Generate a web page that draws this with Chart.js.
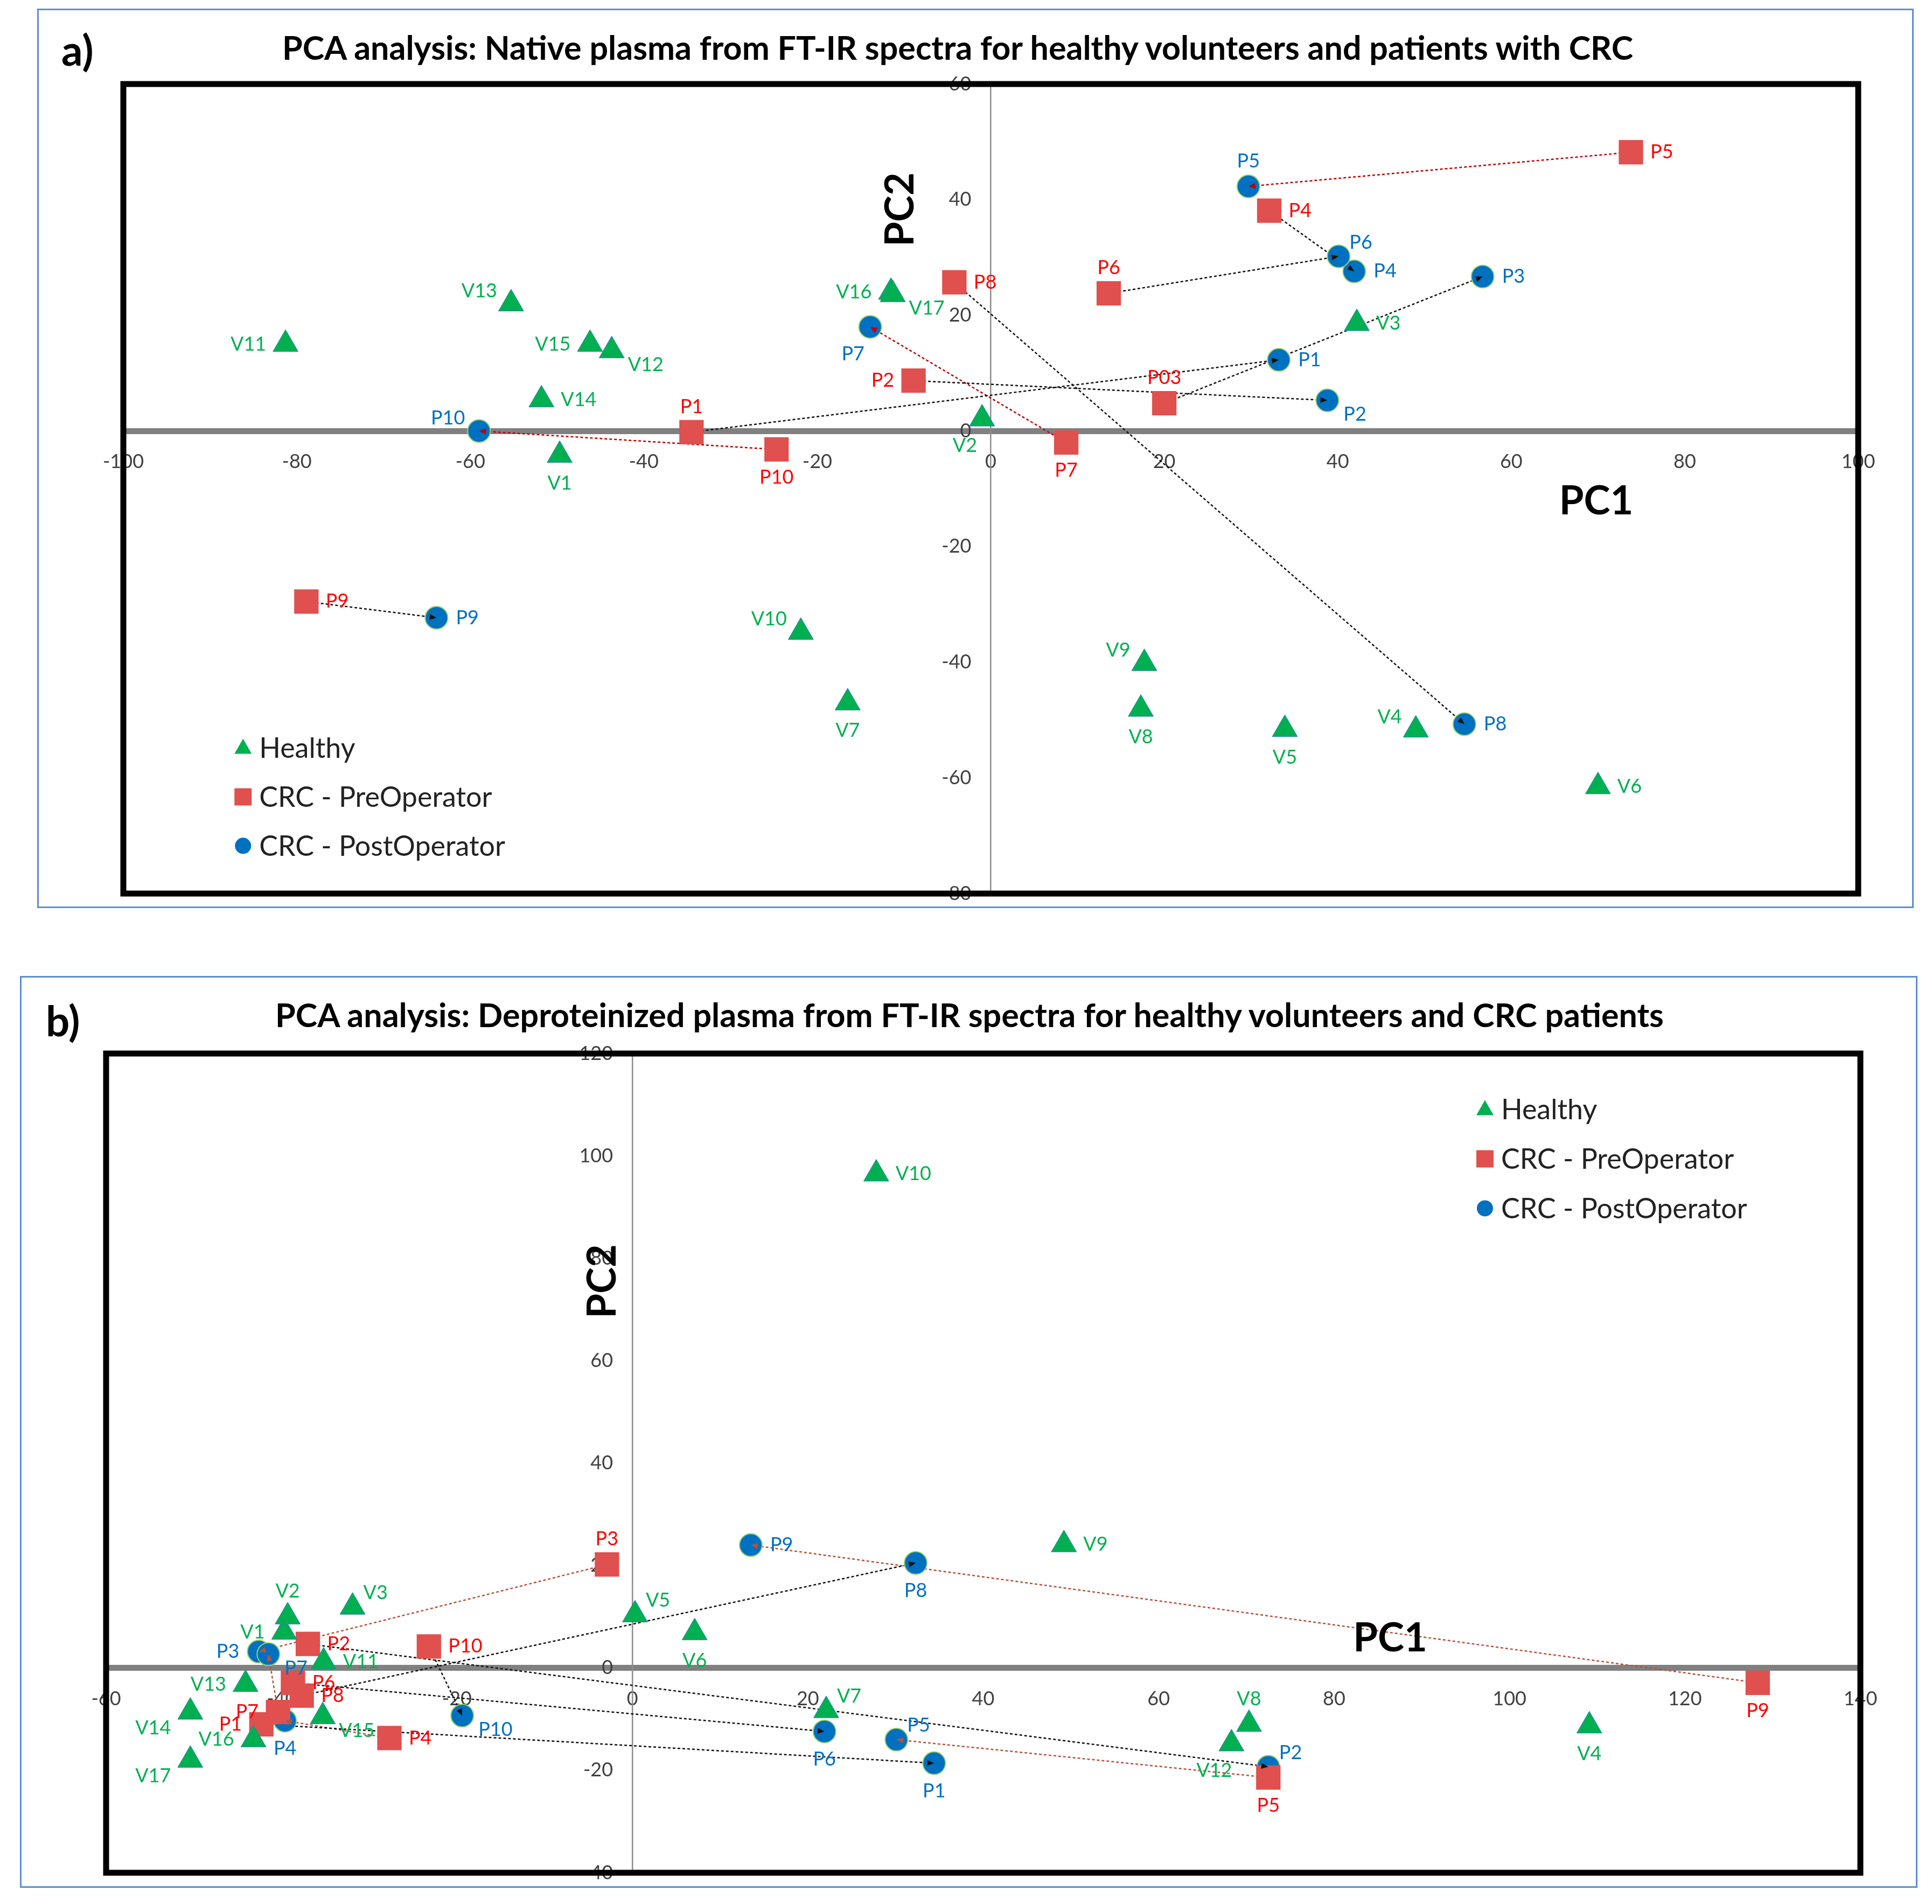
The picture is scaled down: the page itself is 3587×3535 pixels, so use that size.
<!DOCTYPE html>
<html>
<head>
<meta charset="utf-8">
<script src="https://cdn.jsdelivr.net/npm/chart.js@4.4.1/dist/chart.umd.min.js"></script>
<style>
html, body { margin: 0; padding: 0; background: #fff; }
body { width: 3587px; height: 3535px; position: relative; overflow: hidden; font-family: Lato, 'Open Sans', sans-serif; }
.panel { position: absolute; border: 3px solid #5b8fd0; box-sizing: border-box; }
#panelA { left: 69px; top: 16px; width: 3484px; height: 1670px; }
#panelB { left: 37px; top: 1812px; width: 3523px; height: 1693px; }
.tag { position: absolute; font-weight: 700; font-size: 78px; line-height: 1; color: #000; }
.title { position: absolute; left: 0; font-weight: 700; font-size: 61px; line-height: 1; color: #000; white-space: nowrap; text-align: center; }
canvas { position: absolute; left: 0; top: 0; }
</style>
</head>
<body>

<div class="panel" id="panelA">
  <div class="tag" style="left:42px; top:34px;">a)</div>
  <div class="title" style="top:38px; width:3412px;">PCA analysis: Native plasma from FT-IR spectra for healthy volunteers and patients with CRC</div>
  <canvas id="chartA" width="3478" height="1700"></canvas>
</div>

<div class="panel" id="panelB">
  <div class="tag" style="left:45px; top:40px;">b)</div>
  <div class="title" style="top:38px; width:3520px;">PCA analysis: Deproteinized plasma from FT-IR spectra for healthy volunteers and CRC patients</div>
  <canvas id="chartB" width="3517" height="1723"></canvas>
</div>

<script>
// ---- panel a: native plasma ----
const healthyA_names = ['V1', 'V2', 'V3', 'V4', 'V5', 'V6', 'V7', 'V8', 'V9', 'V10', 'V11', 'V12', 'V13', 'V14', 'V15', 'V16', 'V17'];
const healthyA_pc1 = [-49.7, -1.0, 42.2, 49.0, 33.9, 70.0, -16.5, 17.3, 17.7, -21.9, -81.3, -43.7, -55.3, -51.8, -46.2, -11.5, -11.3];
const healthyA_pc2 = [-4.2, 2.1, 18.6, -51.7, -51.6, -61.5, -47.0, -48.1, -40.2, -34.8, 15.0, 13.9, 22.0, 5.4, 15.0, 24.0, 23.6];

const preA_names = ['P1', 'P2', 'P03', 'P4', 'P5', 'P6', 'P7', 'P8', 'P9', 'P10'];
const preA_pc1 = [-34.5, -8.9, 20.0, 32.1, 73.8, 13.6, 8.7, -4.2, -78.9, -24.7];
const preA_pc2 = [-0.2, 8.7, 4.8, 38.1, 48.2, 23.8, -2.0, 25.7, -29.5, -3.2];

const postA_names = ['P1', 'P2', 'P3', 'P4', 'P5', 'P6', 'P7', 'P8', 'P9', 'P10'];
const postA_pc1 = [33.2, 38.8, 56.7, 41.9, 29.7, 40.1, -13.9, 54.6, -63.9, -59.0];
const postA_pc2 = [12.3, 5.3, 26.7, 27.6, 42.3, 30.2, 18.0, -50.7, -32.3, 0.0];

const xTicksA = [-100, -80, -60, -40, -20, 0, 20, 40, 60, 80, 100];
const yTicksA = [-80, -60, -40, -20, 0, 20, 40, 60];

// ---- panel b: deproteinized plasma ----
const healthyB_names = ['V1', 'V2', 'V3', 'V4', 'V5', 'V6', 'V7', 'V8', 'V9', 'V10', 'V11', 'V12', 'V13', 'V14', 'V15', 'V16', 'V17'];
const healthyB_pc1 = [-39.7, -39.3, -31.9, 109.1, 0.3, 7.1, 22.1, 70.3, 49.2, 27.8, -35.2, 68.3, -44.1, -50.4, -35.3, -43.2, -50.4];
const healthyB_pc2 = [7.0, 10.0, 11.9, -11.3, 10.4, 6.9, -8.3, -11.0, 24.1, 96.5, 1.2, -14.8, -3.2, -8.6, -9.5, -14.0, -18.0];

const preB_names = ['P1', 'P2', 'P3', 'P4', 'P5', 'P6', 'P7', 'P8', 'P9', 'P10'];
const preB_pc1 = [-42.3, -37.0, -2.9, -27.7, 72.5, -38.7, -40.4, -37.7, 128.3, -23.2];
const preB_pc2 = [-11.0, 4.7, 20.2, -13.7, -21.4, -2.9, -8.6, -5.4, -2.9, 4.2];

const postB_names = ['P1', 'P2', 'P3', 'P4', 'P5', 'P6', 'P7', 'P8', 'P9', 'P10'];
const postB_pc1 = [34.4, 72.5, -42.6, -39.6, 30.1, 21.9, -41.5, 32.3, 13.5, -19.4];
const postB_pc2 = [-18.6, -19.3, 3.2, -10.3, -14.0, -12.4, 2.7, 20.5, 24.0, -9.3];

const xTicksB = [-60, -40, -20, 0, 20, 40, 60, 80, 100, 120, 140];
const yTicksB = [-40, -20, 0, 20, 40, 60, 80, 100, 120];

// ---- styling ----
const GREEN = '#00b050';
const RED = '#e0504e';
const BLUE = '#0070c0';
const LABEL_RED = '#ff0000';
const LEGEND_TEXT = ['Healthy', 'CRC - PreOperator', 'CRC - PostOperator'];

// where each point label sits relative to its marker
const placeA = {
    healthy: { V1: 'b', V2: 'bl', V3: 'r', V4: 'tl', V5: 'b', V6: 'r', V7: 'b', V8: 'b', V9: 'tl', V10: 'tl',
               V11: 'l', V12: 'br', V13: 'tl', V14: 'r', V15: 'l', V16: 'l', V17: 'br' },
    pre: { P1: 't', P2: 'l', P03: 't', P4: 'r', P5: 'r', P6: 't', P7: 'b', P8: 'r', P9: 'r', P10: 'b' },
    post: { P1: 'r', P2: 'br', P3: 'r', P4: 'r', P5: 't', P6: 'tr', P7: 'bl', P8: 'r', P9: 'r', P10: 'tl' }
};
const placeB = {
    healthy: { V1: 'l', V2: 't', V3: 'tr', V4: 'b', V5: 'tr', V6: 'b', V7: 'tr', V8: 't', V9: 'r', V10: 'r',
               V11: 'r', V12: 'bl', V13: 'l', V14: 'lb', V15: 'br', V16: 'l', V17: 'lb' },
    pre: { P1: 'l', P2: 'r', P3: 't', P4: 'r', P5: 'b', P6: 'r', P7: 'l', P8: 'r', P9: 'b', P10: 'r' },
    post: { P1: 'b', P2: 'tr', P3: 'l', P4: 'b', P5: 'tr', P6: 'b', P7: 'br', P8: 'b', P9: 'r', P10: 'br' }
};
const OFFSETS = {
    r: [36, 0, 'left'], l: [-36, 0, 'right'], t: [0, -47, 'center'], b: [0, 52, 'center'],
    tl: [-26, -24, 'right'], tr: [20, -26, 'left'], bl: [-32, 50, 'center'], br: [30, 26, 'left'],
    lb: [-36, 30, 'right']
};

const toPoints = (xs, ys) => xs.map((x, i) => ({ x: x, y: ys[i] }));

const markerSet = (label, xs, ys, names, style, place, labelColor) => ({
    label: label,
    data: toPoints(xs, ys),
    names: names,
    place: place,
    labelColor: labelColor,
    pointStyle: style.shape,
    pointRadius: style.radius,
    backgroundColor: style.fill,
    borderColor: style.stroke,
    borderWidth: style.strokeWidth,
    order: 0
});

const linkSets = (pre1, pre2, post1, post2, redLinks, redColor) => pre1.map((x, i) => ({
    label: 'link',
    isLink: true,
    data: [{ x: x, y: pre2[i] }, { x: post1[i], y: post2[i] }],
    showLine: true,
    pointRadius: 0,
    borderColor: redLinks.includes(i) ? redColor : '#111',
    borderWidth: 2.5,
    borderDash: [5, 4],
    order: 5
}));

const SHAPES = {
    healthy: { shape: 'triangle', radius: 27, fill: GREEN, stroke: '#2e7fb8', strokeWidth: 1 },
    pre: { shape: 'rect', radius: 32, fill: RED, stroke: RED, strokeWidth: 0 },
    post: { shape: 'circle', radius: 21, fill: BLUE, stroke: '#9bd36a', strokeWidth: 2 }
};

const drawShape = (ctx, kind, x, y) => {
    if (kind === 'healthy') {
        ctx.moveTo(x, y - 17);
        ctx.lineTo(x + 16, y + 11);
        ctx.lineTo(x - 16, y + 11);
        ctx.closePath();
    } else if (kind === 'pre') {
        ctx.rect(x - 16, y - 16, 32, 32);
    } else {
        ctx.arc(x, y, 15, 0, Math.PI * 2);
    }
};

const makeOverlay = (cfg) => ({
    id: 'overlay',
    beforeDatasetsDraw(chart) {
        const { ctx, chartArea: a } = chart;
        ctx.save();
        ctx.strokeStyle = '#000';
        ctx.lineWidth = 11;
        ctx.strokeRect(a.left, a.top, a.right - a.left, a.bottom - a.top);
        ctx.restore();
    },
    afterDatasetsDraw(chart) {
        const { ctx } = chart;
        ctx.save();
        // arrow heads at the post-operative end of each link
        chart.data.datasets.forEach((ds, di) => {
            if (!ds.isLink) return;
            const pts = chart.getDatasetMeta(di).data;
            const p0 = pts[0], p1 = pts[1];
            const ang = Math.atan2(p1.y - p0.y, p1.x - p0.x);
            ctx.fillStyle = ds.borderColor;
            ctx.beginPath();
            ctx.moveTo(p1.x, p1.y);
            ctx.lineTo(p1.x - 14 * Math.cos(ang - 0.4), p1.y - 14 * Math.sin(ang - 0.4));
            ctx.lineTo(p1.x - 14 * Math.cos(ang + 0.4), p1.y - 14 * Math.sin(ang + 0.4));
            ctx.closePath();
            ctx.fill();
        });
        // point labels
        ctx.font = '36px Lato, "Open Sans", sans-serif';
        ctx.textBaseline = 'middle';
        chart.data.datasets.forEach((ds, di) => {
            if (!ds.names) return;
            chart.getDatasetMeta(di).data.forEach((el, i) => {
                const name = ds.names[i];
                const off = OFFSETS[ds.place[name] || 'r'];
                ctx.fillStyle = ds.labelColor;
                ctx.textAlign = off[2];
                ctx.fillText(name, el.x + off[0], el.y + off[1]);
            });
        });
        ctx.restore();
    },
    afterDraw(chart) {
        const { ctx, chartArea: a } = chart;
        const w = a.right - a.left, h = a.bottom - a.top;
        ctx.save();
        ctx.fillStyle = '#000';
        ctx.font = 'bold 74px Lato, "Open Sans", sans-serif';
        ctx.textAlign = 'center';
        ctx.textBaseline = 'middle';
        ctx.fillText('PC1', a.left + w * cfg.pc1[0], a.top + h * cfg.pc1[1]);
        ctx.save();
        ctx.translate(a.left + w * cfg.pc2[0], a.top + h * cfg.pc2[1]);
        ctx.rotate(-Math.PI / 2);
        ctx.fillText('PC2', 0, 0);
        ctx.restore();

        // legend
        const lx = a.left + w * cfg.legend[0];
        const ly = a.top + h * cfg.legend[1];
        const step = h * 0.0605;
        const keys = ['healthy', 'pre', 'post'];
        ctx.font = '52px Lato, "Open Sans", sans-serif';
        ctx.textAlign = 'left';
        keys.forEach((k, i) => {
            const y = ly + i * step;
            ctx.fillStyle = SHAPES[k].fill;
            ctx.beginPath();
            drawShape(ctx, k, lx, y);
            ctx.fill();
            ctx.fillStyle = '#222';
            ctx.fillText(LEGEND_TEXT[i], lx + 30, y + 2);
        });
        ctx.restore();
    }
});

const buildChart = (canvasId, d) => {
    const ctx = document.getElementById(canvasId);
    const datasets = [
        markerSet('Healthy', d.h1, d.h2, d.hn, SHAPES.healthy, d.place.healthy, GREEN),
        markerSet('CRC - PreOperator', d.pre1, d.pre2, d.pren, SHAPES.pre, d.place.pre, LABEL_RED),
        markerSet('CRC - PostOperator', d.post1, d.post2, d.postn, SHAPES.post, d.place.post, BLUE)
    ].concat(linkSets(d.pre1, d.pre2, d.post1, d.post2, d.redLinks, d.redColor));

    const tickFont = { family: 'Lato', size: 36 };
    return new Chart(ctx, {
        type: 'scatter',
        data: { datasets: datasets },
        options: {
            responsive: false,
            animation: false,
            devicePixelRatio: 1,
            events: [],
            layout: { padding: d.padding },
            plugins: { legend: { display: false }, tooltip: { enabled: false } },
            scales: {
                x: {
                    type: 'linear',
                    min: d.xTicks[0],
                    max: d.xTicks[d.xTicks.length - 1],
                    position: { y: 0 },
                    afterBuildTicks: (s) => { s.ticks = d.xTicks.map(v => ({ value: v })); },
                    grid: { display: false, drawTicks: false },
                    border: { display: true, color: '#808080', width: 11 },
                    ticks: { font: tickFont, color: '#404040', padding: 36, maxRotation: 0, autoSkip: false }
                },
                y: {
                    type: 'linear',
                    min: d.yTicks[0],
                    max: d.yTicks[d.yTicks.length - 1],
                    position: { x: 0 },
                    afterBuildTicks: (s) => { s.ticks = d.yTicks.map(v => ({ value: v })); },
                    grid: { display: false, drawTicks: false },
                    border: { display: true, color: '#8c8c8c', width: 2.5 },
                    // labels sit a little left of the vertical axis line
                    ticks: { font: tickFont, color: '#404040', autoSkip: false, callback: (v) => v + '\u2002\u2002' }
                }
            }
        },
        plugins: [makeOverlay(d)]
    });
};

document.addEventListener('DOMContentLoaded', () => {
    buildChart('chartA', {
        h1: healthyA_pc1, h2: healthyA_pc2, hn: healthyA_names,
        pre1: preA_pc1, pre2: preA_pc2, pren: preA_names,
        post1: postA_pc1, post2: postA_pc2, postn: postA_names,
        xTicks: xTicksA, yTicks: yTicksA,
        place: placeA,
        redLinks: [4, 6, 9], redColor: '#c00000',
        padding: { left: 157, top: 137, right: 100, bottom: 60 },
        pc1: [0.849, 0.516], pc2: [0.448, 0.155], legend: [0.069, 0.82]
    });
    buildChart('chartB', {
        h1: healthyB_pc1, h2: healthyB_pc2, hn: healthyB_names,
        pre1: preB_pc1, pre2: preB_pc2, pren: preB_names,
        post1: postB_pc1, post2: postB_pc2, postn: postB_names,
        xTicks: xTicksB, yTicks: yTicksB,
        place: placeB,
        redLinks: [2, 3, 4, 6, 8], redColor: '#b5533c',
        padding: { left: 157, top: 141, right: 103, bottom: 61 },
        pc1: [0.732, 0.714], pc2: [0.283, 0.278], legend: [0.786, 0.068]
    });
});
</script>
</body>
</html>
